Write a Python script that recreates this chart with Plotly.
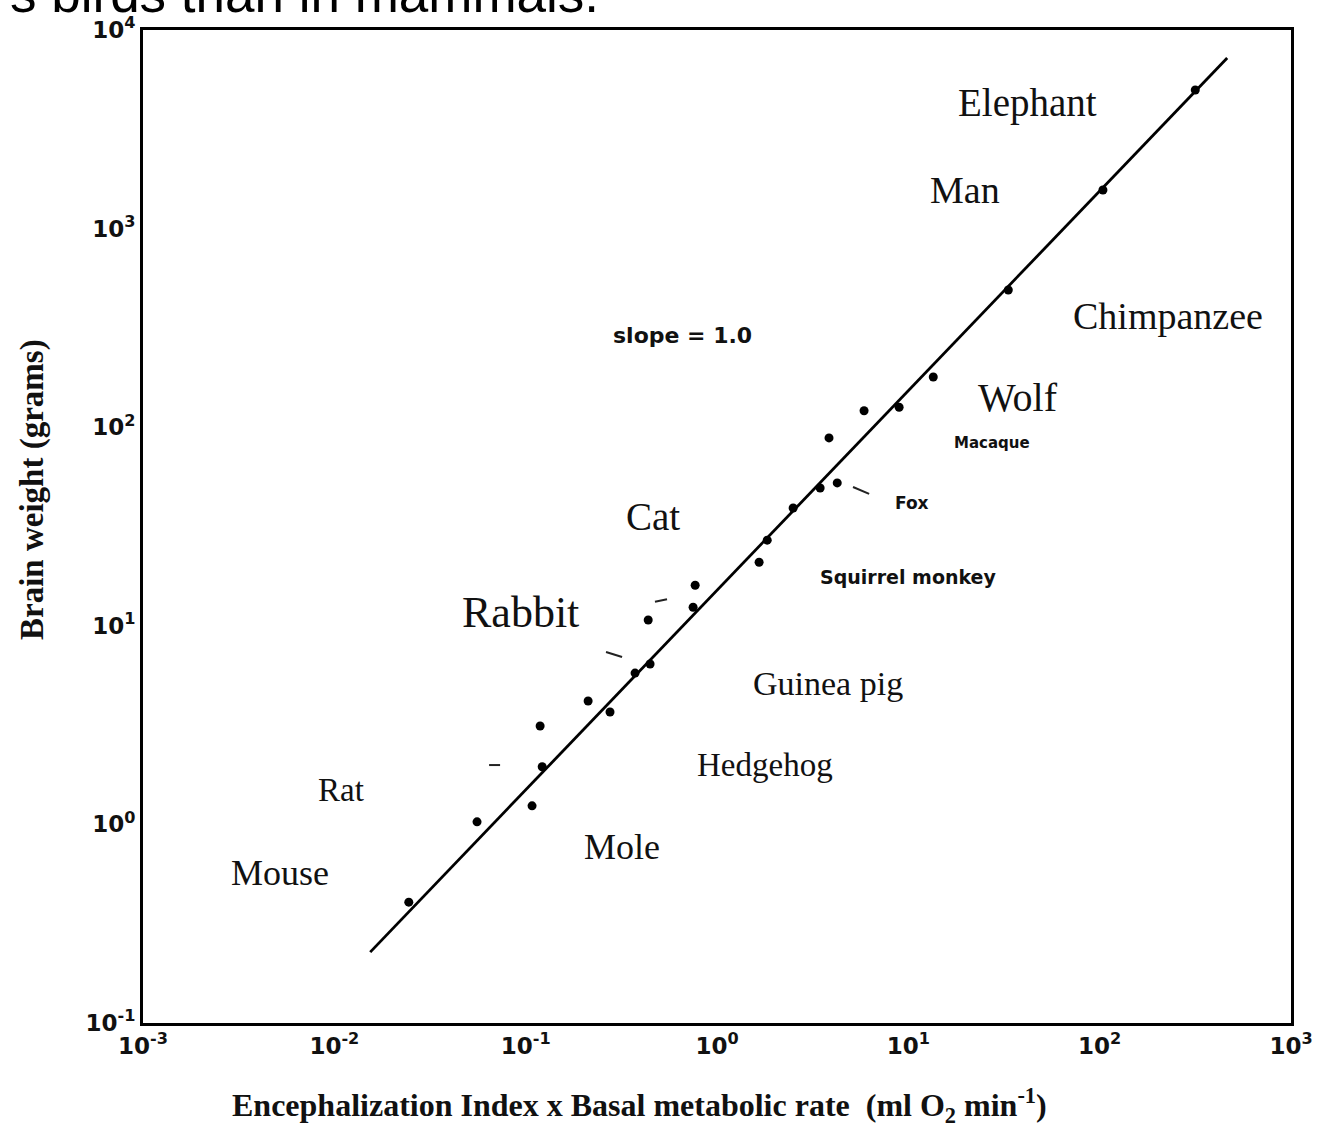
import plotly.graph_objects as go

# ---- data ----
x_vals = [0.0245, 0.0557, 0.108, 0.122, 0.119, 0.212, 0.276, 0.373, 0.447, 0.437,
          0.750, 0.769, 1.66, 1.83, 2.50, 3.46, 4.25, 3.85, 5.87, 8.95,
          13.5, 33.3, 104, 316]
y_vals = [0.406, 1.03, 1.24, 1.95, 3.13, 4.18, 3.68, 5.78, 6.42, 10.7,
          12.4, 16.0, 20.9, 27.0, 39.2, 49.4, 52.4, 88.3, 121, 126,
          179, 491, 1565, 4990]

fit_x = [0.0154, 464]
fit_y = [0.2275, 7228]

x_tick_vals = [0.001, 0.01, 0.1, 1, 10, 100, 1000]
x_tick_text = ["<b>10<sup>-3</sup></b>", "<b>10<sup>-2</sup></b>", "<b>10<sup>-1</sup></b>",
               "<b>10<sup>0</sup></b>", "<b>10<sup>1</sup></b>", "<b>10<sup>2</sup></b>",
               "<b>10<sup>3</sup></b>"]
y_tick_vals = [0.1, 1, 10, 100, 1000, 10000]
y_tick_text = ["<b>10<sup>-1</sup></b>", "<b>10<sup>0</sup></b>", "<b>10<sup>1</sup></b>",
               "<b>10<sup>2</sup></b>", "<b>10<sup>3</sup></b>", "<b>10<sup>4</sup></b>"]

# species labels: text, log10 x, log10 y, font size
big_labels = ["Elephant", "Man", "Chimpanzee", "Wolf", "Cat", "Rabbit",
              "Guinea pig", "Hedgehog", "Rat", "Mole", "Mouse"]
big_lx = [1.621, 1.297, 2.358, 1.574, -0.334, -1.029, 0.581, 0.251, -1.965, -0.496, -2.284]
big_ly = [3.632, 3.194, 2.560, 2.152, 1.548, 1.069, 0.707, 0.299, 0.173, -0.114, -0.245]
big_size = [39, 38, 38, 40, 39, 44, 34, 33, 33, 36, 36]

small_labels = ["slope = 1.0", "Macaque", "Fox", "Squirrel monkey"]
small_lx = [-0.182, 1.438, 1.020, 0.999]
small_ly = [2.464, 1.920, 1.618, 1.246]
small_size = [22, 15, 17, 19]

# little leader dashes
dash_x = [[5.14, 6.24], [0.263, 0.319], [0.474, 0.548], [0.0644, 0.0735]]
dash_y = [[50.0, 46.2], [7.38, 6.97], [13.2, 13.6], [1.99, 1.99]]

fig = go.Figure()

fig.add_trace(go.Scatter(x=fit_x, y=fit_y, mode="lines",
                         line=dict(color="black", width=2.8), hoverinfo="skip"))
fig.add_trace(go.Scatter(x=x_vals, y=y_vals, mode="markers",
                         marker=dict(color="black", size=9), hoverinfo="skip"))
for dx, dy in zip(dash_x, dash_y):
    fig.add_trace(go.Scatter(x=dx, y=dy, mode="lines",
                             line=dict(color="#222", width=2), hoverinfo="skip"))

annotations = []
for t, lx, ly, s in zip(big_labels, big_lx, big_ly, big_size):
    annotations.append(dict(x=lx, y=ly, xref="x", yref="y", text=t, showarrow=False,
                            font=dict(family="Liberation Serif", size=s, color="#111")))
for t, lx, ly, s in zip(small_labels, small_lx, small_ly, small_size):
    annotations.append(dict(x=lx, y=ly, xref="x", yref="y", text="<b>" + t + "</b>",
                            showarrow=False,
                            font=dict(family="DejaVu Sans", size=s, color="#111")))

# axis titles
annotations.append(dict(x=(639 - 143) / 1148, y=(1023 - 1105) / 993, xref="paper", yref="paper",
                        text="<b>Encephalization Index x Basal metabolic rate  (ml O<sub>2</sub> min<sup>-1</sup>)</b>",
                        showarrow=False, xanchor="center", yanchor="middle",
                        font=dict(family="Liberation Serif", size=32, color="#111")))
annotations.append(dict(x=(33 - 143) / 1148, y=(1023 - 490) / 993, xref="paper", yref="paper",
                        text="<b>Brain weight (grams)</b>", textangle=-90,
                        showarrow=False, xanchor="center", yanchor="middle",
                        font=dict(family="Liberation Serif", size=33, color="#111")))
# cut-off page text above the chart
annotations.append(dict(x=(8 - 143) / 1148, y=1.0 + 5 / 993, xref="paper", yref="paper",
                        text="s birds than in mammals.", showarrow=False,
                        xanchor="left", yanchor="bottom",
                        font=dict(family="Liberation Sans", size=53, color="black")))

fig.update_layout(
    width=1317, height=1129,
    margin=dict(l=143, r=26, t=30, b=106),
    paper_bgcolor="white", plot_bgcolor="white",
    showlegend=False,
    annotations=annotations,
    xaxis=dict(type="log", range=[-3, 3], tickvals=x_tick_vals, ticktext=x_tick_text,
               showgrid=False, zeroline=False, showline=True, linecolor="black",
               linewidth=3, mirror=True, ticks="", automargin=False,
               tickfont=dict(family="DejaVu Sans", size=23, color="#111")),
    yaxis=dict(type="log", range=[-1, 4], tickvals=y_tick_vals, ticktext=y_tick_text,
               showgrid=False, zeroline=False, showline=True, linecolor="black",
               linewidth=3, mirror=True, ticks="", automargin=False,
               tickfont=dict(family="DejaVu Sans", size=23, color="#111")),
)

fig.write_html("out.html", post_script="document.body.style.margin='0';",
               config={"displayModeBar": False})
